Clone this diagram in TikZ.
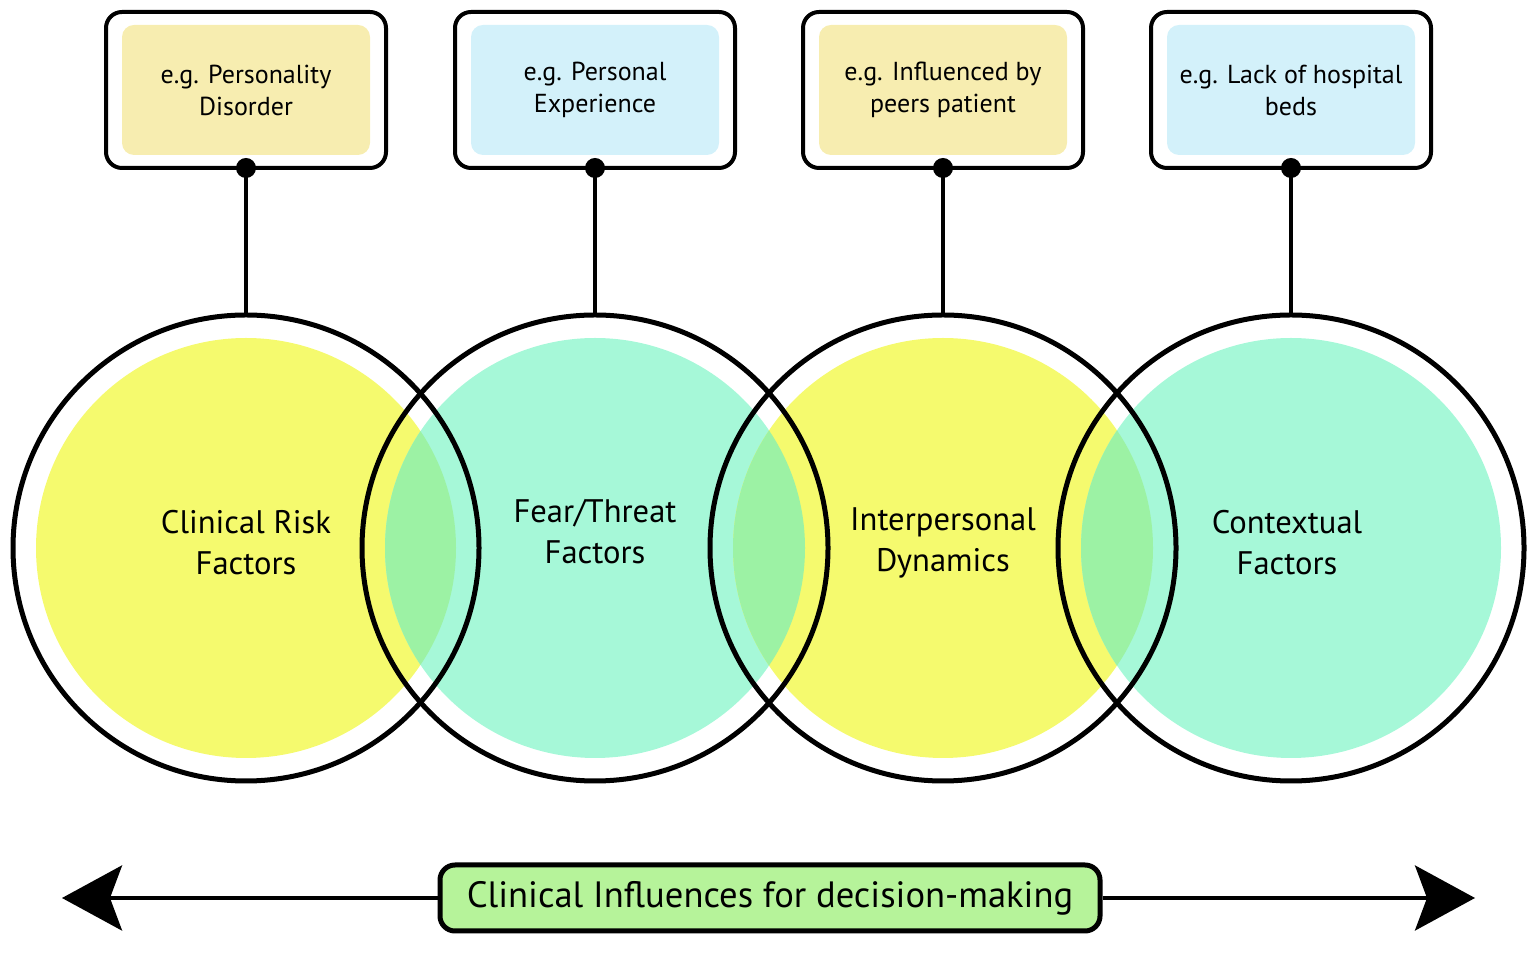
\documentclass[tikz,border=0pt]{standalone}
\usepackage{fontspec}
\setmainfont{PT Sans}
\usetikzlibrary{arrows.meta,positioning}

\definecolor{venyellow}{HTML}{F5FA6E}
\definecolor{venteal}{HTML}{A6F8D8}
\definecolor{vengreen}{HTML}{9CF2A4}
\definecolor{tagyellow}{HTML}{F7EDB0}
\definecolor{tagblue}{HTML}{D3F1FA}
\definecolor{barfill}{HTML}{B6F39A}

\begin{document}
\begin{tikzpicture}[x=1pt,y=1pt,
  ring/.style={circle,draw,line width=2.5pt,minimum size=233pt,inner sep=0pt,outer sep=0pt},
  ringtext/.style={align=center,font=\fontsize{16.3}{20.5}\selectfont},
  tagbox/.style={draw,line width=2pt,rounded corners=8pt,minimum width=140pt,minimum height=78pt,
    outer sep=0pt,align=center,font=\fontsize{13}{16}\selectfont,
    path picture={\fill[#1,rounded corners=6pt]
      ([shift={(8pt,6.5pt)}]path picture bounding box.south west) rectangle
      ([shift={(-8pt,-6.5pt)}]path picture bounding box.north east);}},
  stalk/.style={line width=2pt},
  knob/.style={circle,fill,inner sep=0pt,minimum size=10pt},
  bar/.style={draw,line width=2.5pt,rounded corners=7.5pt,fill=barfill,minimum width=330pt,
    minimum height=33pt,font=\fontsize{18.3}{20}\selectfont},
  axis/.style={line width=2pt,-{Stealth[length=30pt,width=32.5pt,inset=6pt]}}]

        \useasboundingbox (0,0) rectangle (768,479);

        \coordinate (C1) at (123,205);
        \coordinate (C2) at (297.5,205);
        \coordinate (C3) at (471.5,205);
        \coordinate (C4) at (645.5,205);

        % fills
        \fill[venyellow] (C1) circle[radius=105pt];
        \fill[venteal] (C2) circle[radius=105pt];
        \fill[venyellow] (C3) circle[radius=105pt];
        \fill[venteal] (C4) circle[radius=105pt];

        % overlaps
        \begin{scope}
          \clip (C1) circle[radius=105pt];
          \fill[vengreen] (C2) circle[radius=105pt];
        \end{scope}
        \begin{scope}
          \clip (C2) circle[radius=105pt];
          \fill[vengreen] (C3) circle[radius=105pt];
        \end{scope}
        \begin{scope}
          \clip (C3) circle[radius=105pt];
          \fill[vengreen] (C4) circle[radius=105pt];
        \end{scope}

        \node (R1) [ring] at (C1) {};
        \node (R2) [ring] at (C2) {};
        \node (R3) [ring] at (C3) {};
        \node (R4) [ring] at (C4) {};

        \node (T1) [ringtext] at ([yshift=2.5pt]C1) {Clinical Risk\\Factors};
        \node (T2) [ringtext] at ([yshift=8pt]C2) {Fear/Threat\\Factors};
        \node (T3) [ringtext] at ([yshift=2.5pt]C3) {Interpersonal\\Dynamics};
        \node (T4) [ringtext] at ([xshift=-2pt,yshift=2.5pt]C4) {Contextual\\Factors};

        \node (P1) [tagbox=tagyellow, above = 73.5pt of R1] {e.g. Personality\\Disorder};
        \node (P2) [tagbox=tagblue, above = 73.5pt of R2] {e.g. Personal\\Experience};
        \node (P3) [tagbox=tagyellow, above = 73.5pt of R3] {e.g. Influenced by\\peers patient};
        \node (P4) [tagbox=tagblue, above = 73.5pt of R4] {e.g. Lack of hospital\\beds};

        \foreach \i in {1,...,4} {
          \draw[stalk] (P\i.south) -- (R\i.north);
          \node (K\i) [knob] at (P\i.south) {};
        }

        \node (L) [bar] at (385,30) {Clinical Influences for decision-making};
        \coordinate (W) at (31,30);
        \coordinate (E) at (737.5,30);
        \draw[axis] (L.west) -- (W);
        \draw[axis] (L.east) -- (E);
      \end{tikzpicture}
\end{document}
